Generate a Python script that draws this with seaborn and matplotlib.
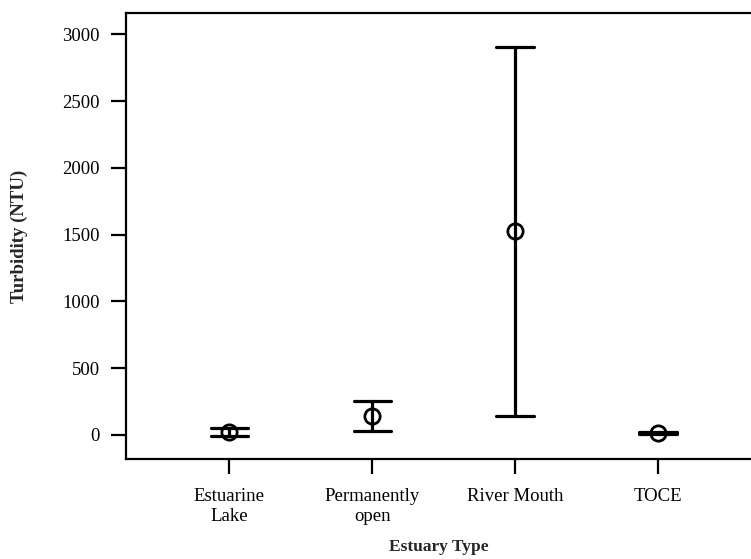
import numpy as np
import pandas as pd
import matplotlib
matplotlib.use("Agg")
import matplotlib.pyplot as plt
import seaborn as sns

# valori (media e intervallo)
estuary_types = ["Estuarine\nLake", "Permanently\nopen", "River Mouth", "TOCE"]
turb_mean = [25, 145, 1525, 13]
turb_low = [-5, 30, 145, 8]
turb_high = [55, 255, 2905, 18]

# tabella lunga: mediana = media, min/max = estremi della barra
df = pd.DataFrame({
    "Estuary Type": np.repeat(estuary_types, 3),
    "Turbidity": np.ravel(np.column_stack([turb_low, turb_mean, turb_high])),
})

sns.set_theme(style="ticks")
plt.rcParams["font.family"] = ["Liberation Serif", "DejaVu Serif"]

fig = plt.figure(figsize=(7.51, 5.59), dpi=100)
ax = fig.add_axes([0.168, 0.179, 0.832, 0.798])

sns.pointplot(
    data=df, x="Estuary Type", y="Turbidity",
    estimator="median", errorbar=lambda v: (v.min(), v.max()),
    capsize=0.26, linestyle="none", color="black",
    marker="o", markersize=11, markerfacecolor="none", markeredgewidth=2,
    err_kws={"linewidth": 2.3}, ax=ax,
)

ax.set_xlim(-0.72, 3.65)
ax.set_ylim(-180, 3160)
ax.set_yticks([0, 500, 1000, 1500, 2000, 2500, 3000])

for side in ["left", "bottom", "top"]:
    ax.spines[side].set_linewidth(1.6)
    ax.spines[side].set_color("black")
ax.spines["right"].set_visible(False)
ax.tick_params(axis="both", length=11, width=1.6, colors="black", labelsize=13.5)
ax.tick_params(axis="y", pad=8)
ax.tick_params(axis="x", pad=10)
for lab in ax.get_xticklabels():
    lab.set_linespacing(1.25)

ax.set_xlabel("Estuary Type", fontsize=12.5, fontweight="bold")
ax.set_ylabel("Turbidity (NTU)", fontsize=13.5, fontweight="bold")
ax.xaxis.set_label_coords(0.5, -0.18)
ax.yaxis.set_label_coords(-0.157, 0.5)

fig.savefig("out.png", dpi=100)
